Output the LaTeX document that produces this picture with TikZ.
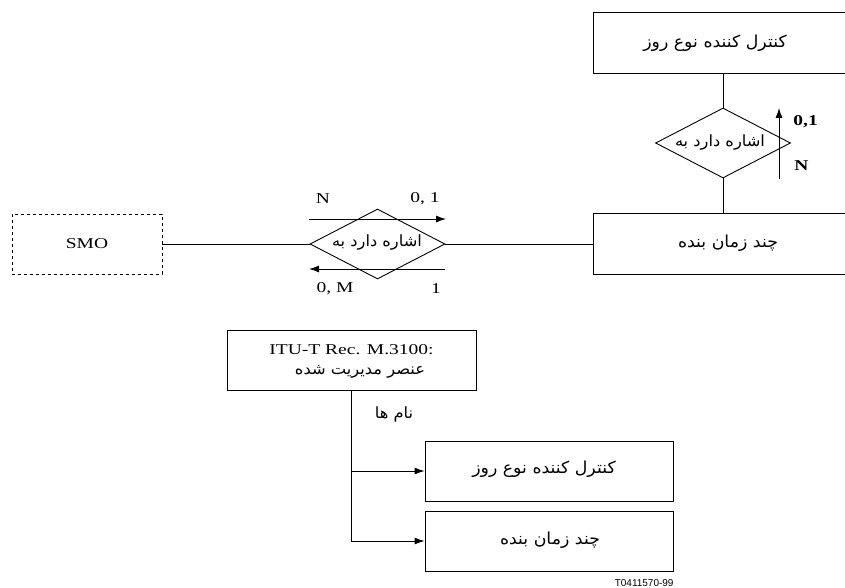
\documentclass[tikz,border=0pt]{standalone}
\usepackage{fontspec}
\setmainfont{Liberation Serif}[FakeStretch=1.3]
\newfontfamily\arabicfont[Script=Arabic,FakeStretch=1.05]{DejaVu Sans}
\newfontfamily\tagfont{Liberation Sans}
\TeXXeTstate=1
\usetikzlibrary{shapes.geometric,arrows.meta}
\tikzset{
  box/.style={draw, rectangle, inner sep=0pt, minimum height=60},
  rel/.style={draw, diamond, inner sep=0pt, minimum width=135, minimum height=70, aspect=1.93},
  fa/.style={font=\arabicfont\fontsize{15.5}{18}\selectfont, inner sep=0pt},
  fabig/.style={font=\arabicfont\fontsize{16.5}{19}\selectfont, inner sep=0pt},
  lat/.style={font=\fontsize{15}{18}\selectfont, inner sep=0pt},
  arr/.style={-{Latex[length=10,width=7]}},
}
\begin{document}
\begin{tikzpicture}[x=1pt,y=-1pt,line width=0.9pt]
\useasboundingbox (0,0) rectangle (845,588);
% top right entities
\node[box, minimum width=260, minimum height=61] (ctl) at (723,43) {};
\node[fabig] (ctlt) at (715,43) {\beginR کنترل کننده نوع روز\endR};
\node[rel] (r1) at (723,143) {};
\node[fa] (r1t) at (720,143) {\beginR اشاره دارد به\endR};
\node[box, minimum width=260, minimum height=61] (tsi) at (723,244) {};
\node[fabig] (tsit) at (728,243) {\beginR چند زمان بنده\endR};
\draw (ctl) -- (r1);
\draw (r1) -- (tsi);
\coordinate (v1s) at (779,179);
\coordinate (v1e) at (779,108);
\draw[arr] (v1s) -- (v1e);
\node[lat, anchor=west] (l01v) at (793,122) {\textbf{0,1}};
\node[lat, anchor=west] (lNv) at (794,166) {\textbf{N}};
% left part
\node[box, lat, dashed, minimum width=150] (smo) at (87,244) {SMO};
\node[rel] (r2) at (377.5,244) {};
\node[fa] (r2t) at (377,243) {\beginR اشاره دارد به\endR};
\draw (smo) -- (r2);
\draw (r2) -- (tsi);
\coordinate (h1s) at (309,219);
\coordinate (h1e) at (446,219);
\coordinate (h2s) at (445,269);
\coordinate (h2e) at (309,269);
\draw[arr] (h1s) -- (h1e);
\draw[arr] (h2s) -- (h2e);
\node[lat] (lN) at (323,199) {N};
\node[lat] (l01) at (425,199) {0, 1};
\node[lat] (l0M) at (335,289) {0, M};
\node[lat] (l1) at (436,289) {1};
% bottom part
\node[box, minimum width=249] (itu) at (351.5,360) {};
\node[lat] (itut) at (351.5,350) {ITU-T Rec. M.3100:};
\node[fa] (itufa) at (360,372) {\beginR عنصر مدیریت شده\endR};
\node[box, minimum width=248] (b1) at (549,471) {};
\node[fabig] (b1t) at (544,469) {\beginR کنترل کننده نوع روز\endR};
\node[box, minimum width=248] (b2) at (549,541) {};
\node[fabig] (b2t) at (550,540) {\beginR چند زمان بنده\endR};
\draw[arr] (itu.south) |- (b2.west);
\draw[arr] (itu.south |- b1.west) -- (b1.west);
\node[fa] (names) at (394,414) {\beginR نام ها\endR};
\node[font=\tagfont\fontsize{10}{12}\selectfont, inner sep=0pt, anchor=east] (tag) at (674,583) {T0411570-99};
\end{tikzpicture}
\end{document}
